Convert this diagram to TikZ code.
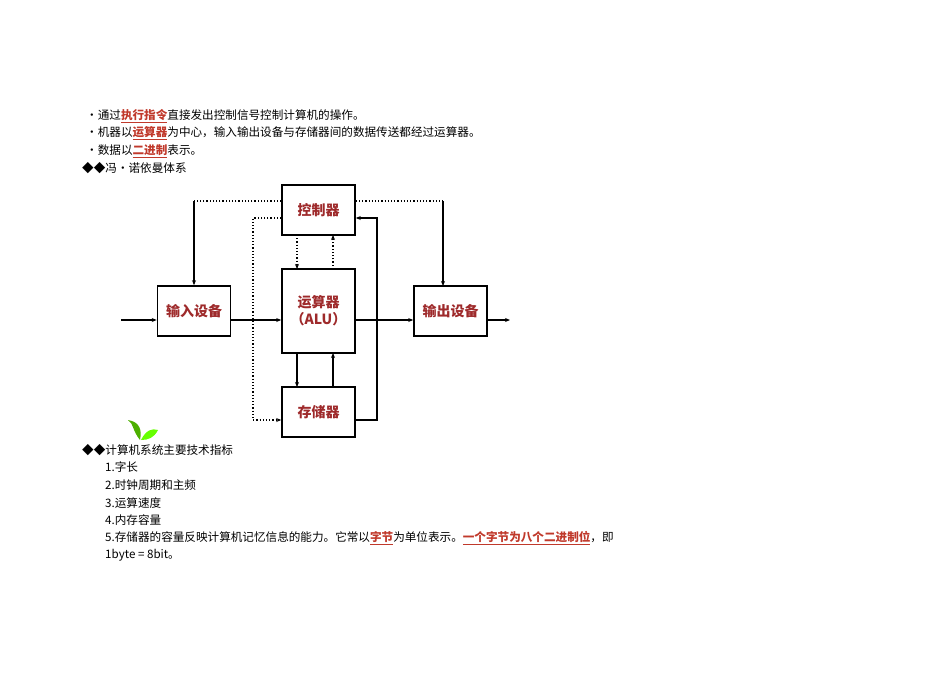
\documentclass[tikz,border=0pt]{standalone}
\usepackage{fontspec}
\setmainfont{Noto Sans CJK SC}
\usetikzlibrary{arrows.meta}
\definecolor{boxred}{HTML}{9E2A2B}
\definecolor{linkred}{HTML}{C0392B}
\newcommand{\hl}[1]{\textcolor{linkred}{\underline{\textbf{#1}}}}
\begin{document}
\begin{tikzpicture}[x=1pt,y=-1pt,
  blk/.style={draw,line width=1.6pt,minimum width=73pt,minimum height=50pt,inner sep=0pt,font=\fontsize{14}{17}\selectfont\bfseries,text=boxred},
  sol/.style={line width=1.4pt,-{Stealth[length=5pt,width=4pt]}},
  dot/.style={line width=1.2pt,dotted},
  doa/.style={line width=1.2pt,dotted,-{Stealth[length=5pt,width=4pt]}},
  txt/.style={anchor=west,inner sep=0pt,font=\fontsize{11.6}{13}\selectfont}]
\useasboundingbox (0,0) rectangle (950,672);
\node[blk] (ctl) at (318.5,210) {控制器};
\node[blk,minimum height=84pt,align=center] (alu) at (318.5,311) {运算器\\（ALU）};
\node[blk] (mem) at (318.5,412) {存储器};
\node[blk] (in) at (194,311) {输入设备};
\node[blk] (out) at (450.5,311) {输出设备};
\coordinate (src) at (121,320);
\coordinate (dst) at (510,320);
\draw[sol] (src) -- (in.west|-src);
\draw[sol] (in.east|-src) -- (alu.west|-src);
\draw[sol] (alu.east|-src) -- (out.west|-src);
\draw[sol] (out.east|-src) -- (dst);
\draw[dot] (ctl.west|-0,201) -- (194,201);
\draw[sol] (194,201) -- (in.north);
\draw[dot] (ctl.east|-0,201) -- (443,201);
\draw[sol] (443,201) -- (443,286);
\draw[doa] (ctl.west|-0,218) -- (253,218) -- (253,420) -- (mem.west|-0,420);
\draw[doa] (297,235) -- (297,269);
\draw[doa] (333,269) -- (333,235);
\draw[sol] (297,353) -- (297,387);
\draw[sol] (333,387) -- (333,353);
\draw[sol] (mem.east|-0,420) -- (377,420) -- (377,218) -- (ctl.east|-0,218);
\fill[green!55!black!70!yellow] (140,440) .. controls (132,430) and (134,424) .. (128,420) .. controls (140,422) and (142,430) .. (140,440);
\fill[green!60!yellow] (141,440) .. controls (146,430) and (152,428) .. (158,430) .. controls (154,438) and (148,440) .. (141,440);
\node[txt] (t1) at (86,116) {·通过\hl{执行指令}直接发出控制信号控制计算机的操作。};
\node[txt] (t2) at (86,133) {·机器以\hl{运算器}为中心，输入输出设备与存储器间的数据传送都经过运算器。};
\node[txt] (t3) at (86,151) {·数据以\hl{二进制}表示。};
\node[txt] (t4) at (82,168) {◆◆冯·诺依曼体系};
\node[txt] (b0) at (82,450) {◆◆计算机系统主要技术指标};
\node[txt] (b1) at (105,467) {1.字长};
\node[txt] (b2) at (105,485) {2.时钟周期和主频};
\node[txt] (b3) at (105,503) {3.运算速度};
\node[txt] (b4) at (105,520) {4.内存容量};
\node[txt] (b5) at (105,538) {5.存储器的容量反映计算机记忆信息的能力。它常以\hl{字节}为单位表示。\hl{一个字节为八个二进制位}，即};
\node[txt] (b6) at (105,555) {1byte = 8bit。};
\end{tikzpicture}
\end{document}
